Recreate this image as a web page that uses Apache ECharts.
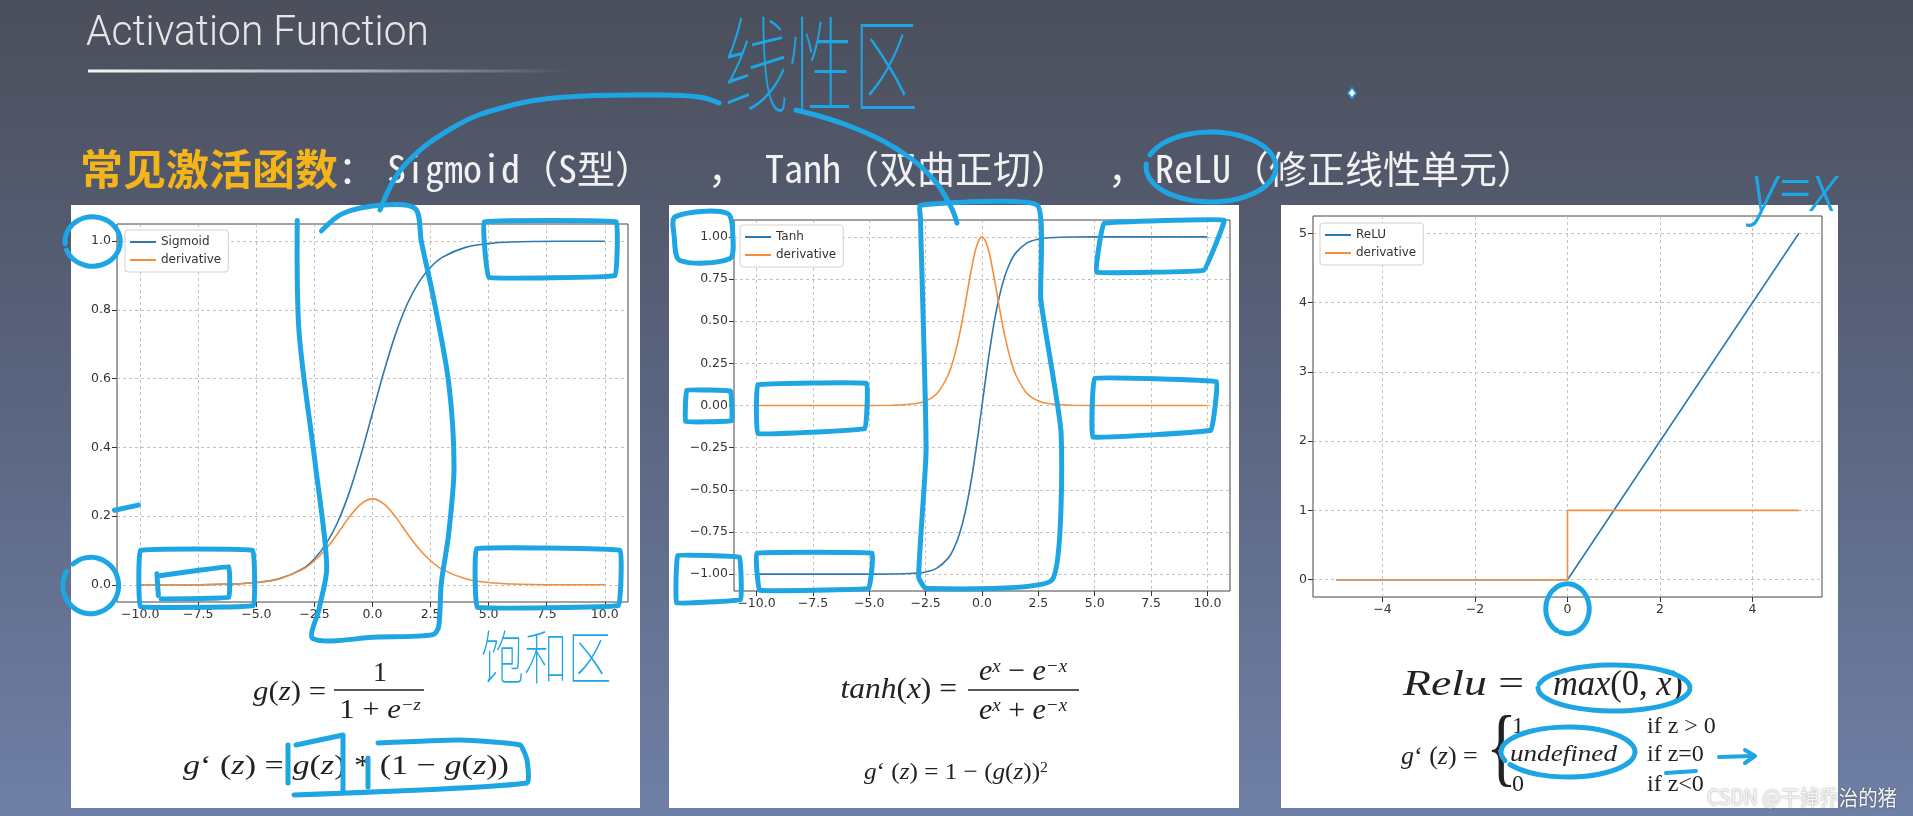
<!DOCTYPE html>
<html>
<head>
<meta charset="utf-8">
<script src="https://cdn.jsdelivr.net/npm/echarts@6/dist/echarts.min.js"></script>
<style>
  html, body { margin: 0; padding: 0; overflow: hidden; }
  #main { width: 1913px; height: 816px; }
</style>
</head>
<body>
<div id="main"></div>
<script>
// values
const sigX = [-10, -8, -6, -5, -4, -3, -2.5, -2, -1.5, -1, -0.5, 0, 0.5, 1, 1.5, 2, 2.5, 3, 4, 5, 6, 8, 10];
const sigY = [0.0000, 0.0003, 0.0025, 0.0067, 0.018, 0.047, 0.076, 0.119, 0.182, 0.269, 0.378, 0.5, 0.622, 0.731, 0.818, 0.881, 0.924, 0.953, 0.982, 0.993, 0.9975, 0.9997, 1.0];
const sigD = [0.0000, 0.0003, 0.0025, 0.0066, 0.0177, 0.045, 0.070, 0.105, 0.149, 0.197, 0.235, 0.25, 0.235, 0.197, 0.149, 0.105, 0.070, 0.045, 0.0177, 0.0066, 0.0025, 0.0003, 0.0000];

const tanhX = [-10, -8, -6, -4, -3, -2.5, -2, -1.5, -1.25, -1, -0.75, -0.5, -0.25, 0, 0.25, 0.5, 0.75, 1, 1.25, 1.5, 2, 2.5, 3, 4, 6, 8, 10];
const tanhY = [-1, -1, -1, -0.9993, -0.995, -0.987, -0.964, -0.905, -0.848, -0.762, -0.635, -0.462, -0.245, 0, 0.245, 0.462, 0.635, 0.762, 0.848, 0.905, 0.964, 0.987, 0.995, 0.9993, 1, 1, 1];
const tanhD = [0, 0, 0, 0.0013, 0.0099, 0.0266, 0.0707, 0.181, 0.281, 0.420, 0.597, 0.786, 0.940, 1.0, 0.940, 0.786, 0.597, 0.420, 0.281, 0.181, 0.0707, 0.0266, 0.0099, 0.0013, 0, 0, 0];

const reluX = [-5, 0, 5];
const reluY = [0, 0, 5];
const reluDX = [-5, 0, 0, 5];
const reluDY = [0, 0, 1, 1];

const xTicksSig = [-10, -7.5, -5, -2.5, 0, 2.5, 5, 7.5, 10];
const yTicksSig = [0, 0.2, 0.4, 0.6, 0.8, 1.0];
const yTicksTanh = [-1, -0.75, -0.5, -0.25, 0, 0.25, 0.5, 0.75, 1];
const xTicksRelu = [-4, -2, 0, 2, 4];
const yTicksRelu = [0, 1, 2, 3, 4, 5];

const BLUE = '#2f78ad';
const ORANGE = '#f28e3c';
const PEN = '#1ea5e3';
const SERIF = "'Liberation Serif','DejaVu Serif',serif";
const MONO = "'Noto Sans Mono CJK SC','DejaVu Sans Mono','Noto Sans CJK SC',monospace";

const chart = echarts.init(document.getElementById('main'));

const pair = (xs, ys) => xs.map((x, i) => [x, ys[i]]);
const minus = s => s.replace('-', '\u2212');
const fmt = d => v => minus(Number(v).toFixed(d));

function axis(g, min, max, ticks, f) {
  return {
    gridIndex: g, type: 'value', min: min, max: max,
    axisLine: { show: false, onZero: false },
    axisTick: { show: true, length: 5, lineStyle: { color: '#333', width: 1 }, customValues: ticks },
    axisLabel: { customValues: ticks, formatter: f, color: '#333', fontSize: 12.5, fontFamily: 'DejaVu Sans', margin: 6 },
    splitLine: { show: true, lineStyle: { color: '#b3b3b3', width: 0.8, type: [3, 3] } }
  };
}

function line(name, g, data, color, smooth) {
  return {
    name: name, type: 'line', xAxisIndex: g, yAxisIndex: g, data: data,
    symbol: 'none', smooth: smooth, lineStyle: { color: color, width: 1.6 }, itemStyle: { color: color },
    silent: true, animation: false
  };
}

function legend(left, top, names) {
  return {
    left: left, top: top, orient: 'vertical', data: names, icon: 'rect',
    itemWidth: 26, itemHeight: 2, itemGap: 6, padding: [6, 7, 6, 5],
    backgroundColor: '#fff', borderColor: '#d0d0d0', borderWidth: 1, borderRadius: 3,
    textStyle: { fontSize: 12, lineHeight: 12, color: '#333', fontFamily: 'DejaVu Sans' },
    selectedMode: false
  };
}

const gridBase = { show: true, backgroundColor: '#fff', borderColor: '#444', borderWidth: 1, outerBoundsMode: 'none', containLabel: false };

chart.setOption({
  animation: false,
  backgroundColor: {
    type: 'linear', x: 0, y: 0, x2: 0, y2: 1,
    colorStops: [{ offset: 0, color: '#4b4f5b' }, { offset: 0.5, color: '#5b6580' }, { offset: 1, color: '#6f80a6' }]
  },
  grid: [
    Object.assign({ left: 117, top: 224, width: 511, height: 378 }, gridBase),
    Object.assign({ left: 734, top: 220, width: 496, height: 371 }, gridBase),
    Object.assign({ left: 1313, top: 216, width: 509, height: 381 }, gridBase)
  ],
  xAxis: [
    axis(0, -11, 11, xTicksSig, fmt(1)),
    axis(1, -11, 11, xTicksSig, fmt(1)),
    axis(2, -5.5, 5.5, xTicksRelu, fmt(0))
  ],
  yAxis: [
    axis(0, -0.05, 1.05, yTicksSig, fmt(1)),
    axis(1, -1.1, 1.1, yTicksTanh, fmt(2)),
    axis(2, -0.25, 5.25, yTicksRelu, fmt(0))
  ],
  legend: [
    legend(125, 230, ['Sigmoid', 'derivative']),
    legend(740, 225, ['Tanh', 'derivative']),
    legend(1320, 223, ['ReLU', 'derivative'])
  ],
  series: [
    line('Sigmoid', 0, pair(sigX, sigY), BLUE, 0.35),
    line('derivative', 0, pair(sigX, sigD), ORANGE, 0.35),
    line('Tanh', 1, pair(tanhX, tanhY), BLUE, 0.35),
    line('derivative', 1, pair(tanhX, tanhD), ORANGE, 0.35),
    line('ReLU', 2, pair(reluX, reluY), BLUE, false),
    line('derivative', 2, pair(reluDX, reluDY), ORANGE, false)
  ]
});

// ---------- slide decoration, formulas and pen annotations ----------
const ctx = document.createElement('canvas').getContext('2d');
function fit(text, font, w) { ctx.font = font; return w / ctx.measureText(text).width; }

const G = [];
function rect(x, y, w, h, fill, z) { G.push({ type: 'rect', z: z, silent: true, shape: { x: x, y: y, width: w, height: h }, style: { fill: fill } }); }
function txt(text, x, y, font, fill, align, extra) {
  G.push(Object.assign({ type: 'text', x: x, y: y, z: 50, silent: true,
    style: { text: text, font: font, fill: fill, align: align || 'left', verticalAlign: 'middle' } }, extra || {}));
}
function rich(text, x, y, size, align, sx) {
  const c = '#222';
  G.push({ type: 'text', x: x, y: y, z: 50, silent: true, scaleX: sx || 1, style: {
    text: text, align: align || 'left', verticalAlign: 'middle', fill: c,
    font: size + 'px ' + SERIF,
    rich: {
      i: { fontFamily: SERIF, fontStyle: 'italic', fontSize: size, fill: c },
      n: { fontFamily: SERIF, fontSize: size, fill: c },
      s: { fontFamily: SERIF, fontStyle: 'italic', fontSize: Math.round(size * 0.62), fill: c, verticalAlign: 'top' },
      t: { fontFamily: SERIF, fontSize: Math.round(size * 0.62), fill: c, verticalAlign: 'top' }
    }
  } });
}
function bar(x1, x2, y) { G.push({ type: 'line', z: 50, silent: true, shape: { x1: x1, y1: y, x2: x2, y2: y }, style: { stroke: '#222', lineWidth: 1.3 } }); }
function pen(points, smooth, closed, w) {
  G.push({ type: closed ? 'polygon' : 'polyline', z: 100, silent: true, shape: { points: points, smooth: smooth || 0 },
    style: { fill: 'none', stroke: PEN, lineWidth: w || 5, lineCap: 'round', lineJoin: 'round' } });
}
const px = (g, pts) => pts.map(p => chart.convertToPixel({ gridIndex: g }, p));
function ell(cx, cy, rx, ry, a0, a1, n) {
  const out = [];
  for (let k = 0; k <= n; k++) { const t = (a0 + (a1 - a0) * k / n) * Math.PI / 180; out.push([cx + rx * Math.cos(t), cy + ry * Math.sin(t)]); }
  return out;
}

// cards
rect(71, 205, 569, 603, '#fff', -5);
rect(669, 205, 570, 603, '#fff', -5);
rect(1281, 205, 557, 603, '#fff', -5);

// title and underline
const titleFont = '300 42px Roboto, Lato, sans-serif';
txt('Activation Function', 86, 34, titleFont, '#e6e6e6', 'left', { scaleX: fit('Activation Function', titleFont, 343) });
G.push({ type: 'rect', z: 50, silent: true, shape: { x: 88, y: 69.5, width: 480, height: 3 },
  style: { fill: { type: 'linear', x: 0, y: 0, x2: 1, y2: 0, colorStops: [{ offset: 0, color: 'rgba(255,255,255,0.95)' }, { offset: 0.55, color: 'rgba(255,255,255,0.55)' }, { offset: 1, color: 'rgba(255,255,255,0)' }] } } });

// subtitle
const goldFont = 'bold 42px "Noto Sans CJK SC", sans-serif';
txt('常见激活函数', 80, 169, goldFont, '#f4b41a', 'left', { scaleX: fit('常见激活函数', goldFont, 258) });
const subFont = '38px ' + MONO;
[['：', 338], ['Sigmoid（S型）', 387], ['，', 708], ['Tanh（双曲正切）', 765], ['，', 1108], ['ReLU（修正线性单元）', 1155]]
  .forEach(s => txt(s[0], s[1], 169, subFont, '#f2f2f2', 'left'));

// formulas, panel 1
rich('{i|g}{n|(}{i|z}{n|) =}', 326, 693, 28, 'right', 1.1);
rich('{n|1}', 380, 674, 28, 'center');
bar(334, 424, 690);
rich('{n|1 + }{i|e}{s|−z}', 380, 711, 28, 'center', 1.1);
rich('{i|g}{n|‘ (}{i|z}{n|) = }{i|g}{n|(}{i|z}{n|) * (1 − }{i|g}{n|(}{i|z}{n|))}', 183, 767, 28, 'left', 1.22);

// formulas, panel 2
rich('{i|tanh}{n|(}{i|x}{n|) =}', 957, 690, 30, 'right', 1.05);
rich('{i|e}{s|x}{n| − }{i|e}{s|−x}', 1023, 672, 30, 'center');
bar(968, 1079, 690);
rich('{i|e}{s|x}{n| + }{i|e}{s|−x}', 1023, 711, 30, 'center');
rich('{i|g}{n|‘ (}{i|z}{n|) = 1 − (}{i|g}{n|(}{i|z}{n|))}{t|2}', 956, 773, 24, 'center', 1.05);

// formulas, panel 3
const f35 = 'italic 35px ' + SERIF;
rich('{i|Relu}{n| =}', 1403, 686, 35, 'left', fit('Relu =', f35, 126));
rich('{i|max}{n|(0, }{i|x}{n|)}', 1553, 686, 35, 'left', fit('max(0, x)', f35, 130));
rich('{i|g}{n|‘ (}{i|z}{n|) =}', 1401, 757, 26, 'left');
txt('{', 1486, 752, '86px ' + SERIF, '#222', 'left', { scaleX: 0.75 });
rich('{n|1}', 1512, 727, 24, 'left');
rich('{i|undefined}', 1510, 755, 24, 'left', 1.13);
rich('{n|0}', 1512, 785, 24, 'left');
rich('{n|if z > 0}', 1647, 727, 24, 'left');
rich('{n|if z=0}', 1647, 755, 24, 'left');
rich('{n|if z<0}', 1647, 785, 24, 'left');

// watermark
const wmFont = '21px "Noto Sans CJK SC", sans-serif';
G.push({ type: 'text', x: 1897, y: 797, z: 60, silent: true, scaleX: fit('CSDN @干掉乔治的猪', wmFont, 190),
  style: { text: 'CSDN @干掉乔治的猪', font: wmFont, fill: '#f4f4f4', align: 'right', verticalAlign: 'middle',
    textShadowColor: 'rgba(0,0,0,0.45)', textShadowBlur: 2 } });

// pen annotations in data space, sigmoid panel
pen(px(0, [[-2.2, 1.03], [-1.3, 1.08], [0.4, 1.105], [1.84, 1.095], [2.1, 1.0], [2.64, 0.83], [3.28, 0.588], [3.51, 0.344],
  [3.28, 0.149], [2.96, 0.003], [2.85, -0.12], [2.6, -0.145], [0.2, -0.152], [-2.55, -0.157], [-2.3, -0.07], [-1.97, 0.052],
  [-2.45, 0.344], [-3.16, 0.734], [-3.24, 1.06]]), 0.3);
pen(px(0, [[4.8, 1.056], [10.5, 1.056], [10.45, 0.9], [5.0, 0.895]]), 0.05, true);
pen(px(0, [[-10, 0.1], [-5.15, 0.1], [-5.12, -0.06], [-10, -0.063]]), 0.05, true);
pen(px(0, [[-9.28, 0.032], [-9.22, -0.031]]), 0);
pen(px(0, [[-9.1, 0.027], [-6.18, 0.052], [-6.18, -0.036], [-9.1, -0.041]]), 0.05);
pen(px(0, [[4.47, 0.105], [10.67, 0.1], [10.6, -0.06], [4.5, -0.065]]), 0.05, true);
pen(px(0, ell(-12.05, 0.999, 1.19, 0.072, 200, 545, 24)), 0.4);
pen(px(0, ell(-12.13, -0.002, 1.2, 0.082, 150, 490, 24)), 0.4);
pen(px(0, [[-11.11, 0.217], [-10.08, 0.232]]), 0);

// tanh panel
pen(px(1, [[5.4, 1.079], [10.74, 1.099], [9.84, 0.802], [5.07, 0.792]]), 0.05, true);
pen(px(1, [[-9.95, 0.121], [-5.11, 0.13], [-5.19, -0.136], [-9.95, -0.166]]), 0.05, true);
pen(px(1, [[4.99, 0.16], [10.41, 0.14], [10.16, -0.146], [4.91, -0.186]]), 0.05, true);
pen(px(1, [[-10, -0.877], [-4.86, -0.877], [-5.02, -1.085], [-9.87, -1.095]]), 0.05, true);
pen(px(1, [[-2.73, 1.188], [2.45, 1.188], [2.61, 0.625], [3.51, -0.166], [3.1, -1.036], [-2.48, -1.085], [-2.81, -1.016],
  [-2.48, -0.265], [-2.73, 1.109]]), 0.15, true);
pen(px(1, [[-13.6, 1.12], [-11.3, 1.14], [-11.05, 1.0], [-11.2, 0.87], [-13.4, 0.86], [-13.65, 1.0]]), 0.3, true);
pen(px(1, [[-13.1, 0.09], [-11.15, 0.085], [-11.1, -0.09], [-13.15, -0.095]]), 0.05, true);
pen(px(1, [[-13.5, -0.89], [-10.75, -0.9], [-10.7, -1.15], [-13.55, -1.17]]), 0.05, true);

// relu panel: ring round the 0 tick label
pen(px(2, ell(0, -0.42, 0.47, 0.36, 250, 600, 24)), 0.4);

// free-hand strokes on the slide
pen([[380, 210], [403, 167], [454, 127], [505, 107], [566, 97], [658, 95], [699, 97], [719, 103]], 0.4);
pen([[796, 110], [852, 127], [903, 153], [934, 180], [951, 207], [957, 223]], 0.4);
pen(ell(1211, 167, 65, 35, 200, 545, 28), 0.4);
pen([[288, 745], [288, 783]], 0);
pen([[296, 745], [343, 735], [343, 792]], 0);
pen([[368, 758], [368, 787]], 0);
pen([[378, 743], [460, 740], [520, 745], [527, 760], [527, 783], [294, 795]], 0.15);
pen(ell(1614, 688, 76, 23, 190, 540, 28), 0.4);
pen(ell(1568, 752, 67, 25, 160, 510, 28), 0.4);
pen([[1719, 757], [1753, 756]], 0, false, 4);
pen([[1745, 750], [1755, 756], [1745, 763]], 0, false, 4);
pen([[1666, 773], [1696, 771]], 0, false, 4);
G.push({ type: 'polygon', z: 100, silent: true, shape: { points: [[1352, 88], [1356, 93], [1352, 98], [1348, 93]] }, style: { fill: '#fff', stroke: PEN, lineWidth: 1.5 } });

// handwritten notes
const hand = '"Noto Sans CJK SC", sans-serif';
txt('线性区', 821, 64, '100 72px ' + hand, PEN, 'center', { scaleX: 0.9, scaleY: 1.45 });
txt('饱和区', 546, 657, '100 46px ' + hand, PEN, 'center', { scaleX: 0.95, scaleY: 1.25 });
txt('y=x', 1795, 192, 'italic 300 58px "Noto Sans", sans-serif', PEN, 'center', { scaleY: 1.15 });

chart.setOption({ graphic: { elements: G } });
</script>
</body>
</html>
